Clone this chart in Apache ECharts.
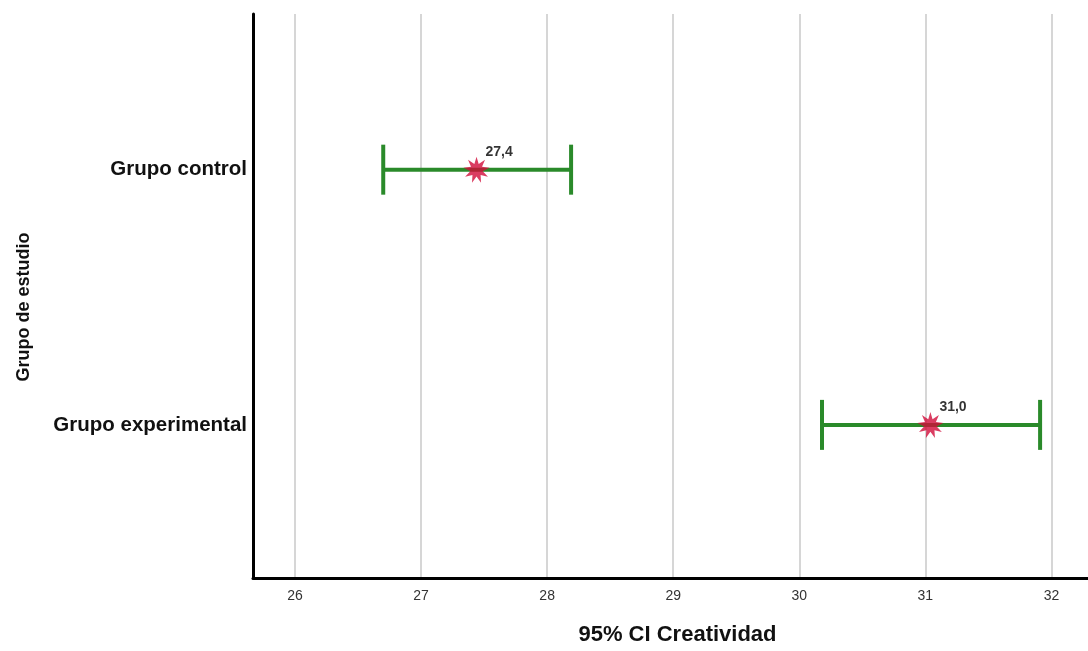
<!DOCTYPE html>
<html>
<head>
<meta charset="utf-8">
<script src="https://cdn.jsdelivr.net/npm/echarts@6/dist/echarts.min.js"></script>
<style>html,body{margin:0;padding:0;background:#fff;overflow:hidden}#c{width:1088px;height:651px}</style>
</head>
<body>
<div id="c"></div>
<script>
const groups = ['Grupo control', 'Grupo experimental'];
const means = [27.44, 31.04];
const lower = [26.70, 30.18];
const upper = [28.19, 31.91];
const xTicks = [26, 27, 28, 29, 30, 31, 32];

function starPath(n, rIn) {
  let d = '';
  for (let i = 0; i < 2 * n; i++) {
    const r = i % 2 === 0 ? 1 : rIn;
    const a = Math.PI * i / n - Math.PI / 2;
    const x = (r * Math.cos(a)).toFixed(4), y = (r * Math.sin(a)).toFixed(4);
    d += (i === 0 ? 'M' : 'L') + x + ' ' + y + ' ';
  }
  return 'path://' + d + 'Z';
}

const ciData = groups.map((g, i) => [lower[i], upper[i], i + 1]);
const meanData = groups.map((g, i) => [means[i], i + 1]);

const chart = echarts.init(document.getElementById('c'), null, {renderer: 'canvas', width: 1088, height: 651});
chart.setOption({
  animation: false,
  backgroundColor: '#fff',
  grid: {left: 253, width: 835, top: 14, height: 570, containLabel: false},
  xAxis: {
    type: 'value', min: 25.667, max: 32.29,
    name: '95% CI Creatividad', nameLocation: 'middle', nameGap: 46,
    nameTextStyle: {fontFamily: 'Liberation Sans', fontSize: 22, fontWeight: 'bold', color: '#111', padding: [0, 0, 0, 14]},
    axisLine: {show: true, lineStyle: {color: '#000', width: 3}},
    axisTick: {show: false, customValues: xTicks},
    axisLabel: {customValues: xTicks, fontFamily: 'Liberation Sans', fontSize: 14, color: '#333', margin: 11},
    splitLine: {show: true, lineStyle: {color: '#c8c8c8', width: 1.5}}
  },
  yAxis: {
    type: 'value', min: 0.39, max: 2.6, inverse: true,
    name: 'Grupo de estudio', nameLocation: 'middle', nameGap: 220, nameRotate: 90,
    nameTextStyle: {fontFamily: 'Liberation Sans', fontSize: 18, fontWeight: 'bold', color: '#111', padding: [0, 22, 0, 0]},
    axisLine: {show: true, lineStyle: {color: '#000', width: 3}},
    axisTick: {show: false, customValues: [1, 2]},
    splitLine: {show: false},
    axisLabel: {
      customValues: [1, 2], margin: 6, padding: [8, 0, 0, 0],
      fontFamily: 'Liberation Sans', fontSize: 20.5, fontWeight: 'bold', color: '#111',
      formatter: v => groups[Math.round(v) - 1] || ''
    }
  },
  series: [
    {
      type: 'custom',
      data: ciData,
      encode: {x: [0, 1], y: 2},
      renderItem: function (params, api) {
        const y = api.value(2);
        const p1 = api.coord([api.value(0), y]);
        const p2 = api.coord([api.value(1), y]);
        const h = 25;
        const style = {stroke: '#2a8a2a', lineWidth: 4, lineCap: 'butt'};
        return {type: 'group', children: [
          {type: 'line', shape: {x1: p1[0], y1: p1[1], x2: p2[0], y2: p2[1]}, style: style},
          {type: 'line', shape: {x1: p1[0], y1: p1[1] - h, x2: p1[0], y2: p1[1] + h}, style: style},
          {type: 'line', shape: {x1: p2[0], y1: p2[1] - h, x2: p2[0], y2: p2[1] + h}, style: style}
        ]};
      },
      z: 2
    },
    {
      type: 'scatter',
      data: meanData,
      symbol: starPath(9, 0.48),
      symbolSize: 26,
      itemStyle: {color: '#d10c3a'},
      label: {
        show: true, position: 'right', offset: [-9, -18],
        fontFamily: 'Liberation Sans', fontSize: 14, fontWeight: 'bold', color: '#000',
        formatter: p => p.value[0].toFixed(1).replace('.', ',')
      },
      z: 3
    }
  ]
});
</script>
</body>
</html>
